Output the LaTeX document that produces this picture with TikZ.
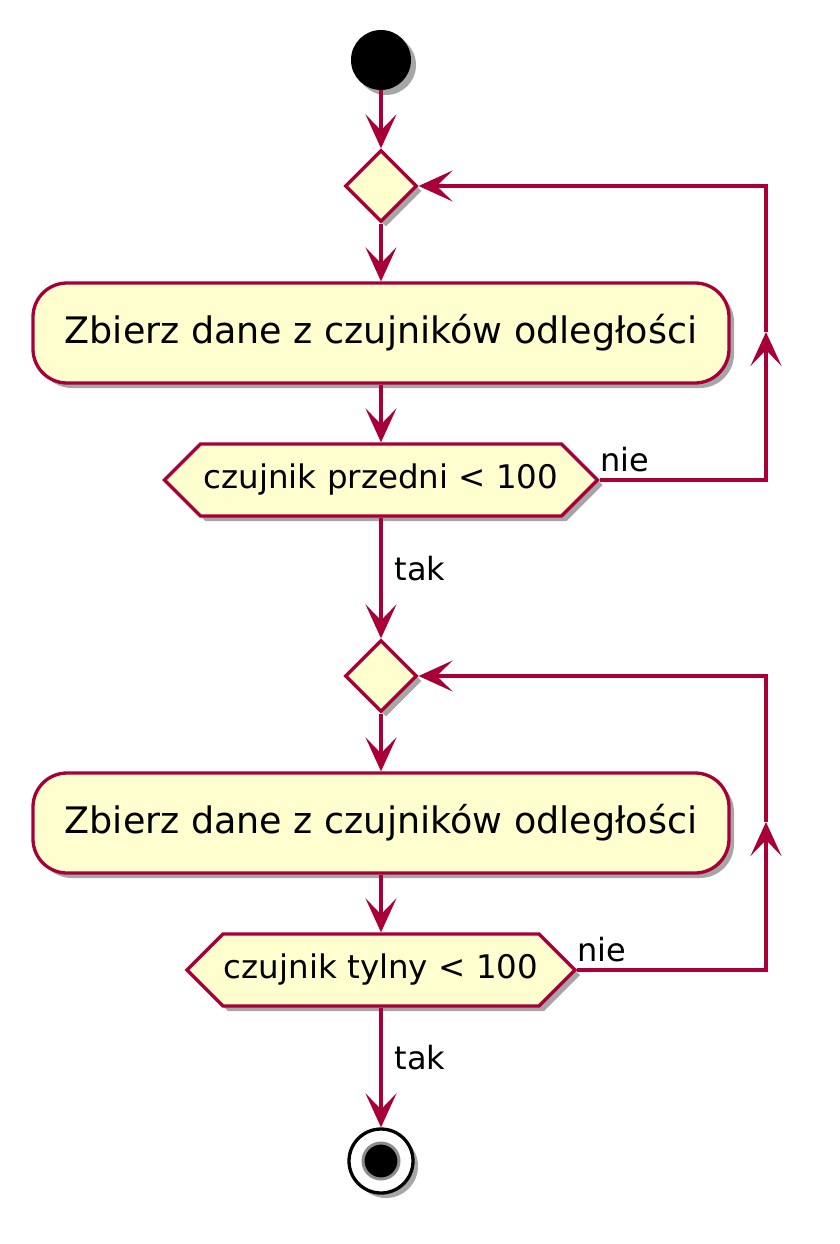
\documentclass[tikz,border=0pt]{standalone}
\usepackage{fontspec}
\setmainfont{DejaVu Sans}
\usetikzlibrary{shapes.geometric, shapes.symbols, arrows.meta, shadows}
\definecolor{umlred}{RGB}{168, 0, 54}
\definecolor{umlfill}{RGB}{254, 254, 206}

\tikzset{
  shade/.style={drop shadow={shadow xshift=5pt, shadow yshift=-5pt, opacity=0.35, fill=black}},
  activity/.style={draw=umlred, fill=umlfill, line width=3.3pt, rounded corners=34pt, minimum width=696pt, minimum height=100pt, font=\fontsize{36.5}{42}\selectfont, shade},
  merge/.style={draw=umlred, fill=umlfill, line width=3.3pt, diamond, aspect=1, inner sep=0pt, minimum width=72pt, minimum height=72pt, shade},
  cond/.style={draw=umlred, fill=umlfill, line width=3.3pt, signal, signal to=west and east, signal pointer angle=90, inner sep=0pt, minimum height=72pt, font=\fontsize{32.5}{38}\selectfont, shade},
  flow/.style={draw=umlred, line width=3.3pt, -{Stealth[length=34pt, width=31pt, inset=16pt]}},
  lbl/.style={font=\fontsize{32}{38}\selectfont, inner sep=0pt}
}

\begin{document}
\begin{tikzpicture}[x=1pt, y=-1pt]
  \useasboundingbox (0,0) rectangle (840,1244);

  % first loop
  \node[circle, fill=black, minimum size=60pt, inner sep=0pt, shade] (start) at (381,60) {};
  \node[merge] (d1) at (381,186) {};
  \node[activity] (box1) at (381,333) {Zbierz dane z czujników odległości};
  \node[cond, minimum width=433pt] (h1) at (381,480) {czujnik przedni < 100};
  \coordinate (r1b) at (766,480);
  \coordinate (r1m) at (766,332);
  \coordinate (r1t) at (766,186);

  \draw[flow] (start) -- (d1.north);
  \draw[flow] (d1.south) -- (box1.north);
  \draw[flow] (box1.south) -- (h1.north);
  \draw[flow] (h1.east) -- (r1b) -- (r1m);
  \draw[flow] (r1m) -- (r1t) -- (d1.east);
  \node[lbl, anchor=south west] at (h1.east) [yshift=8pt] {nie};

  % second loop
  \node[merge] (d2) at (381,676) {};
  \node[activity] (box2) at (381,823) {Zbierz dane z czujników odległości};
  \node[cond, minimum width=388pt] (h2) at (381,970) {czujnik tylny < 100};
  \coordinate (r2b) at (766,970);
  \coordinate (r2m) at (766,822);
  \coordinate (r2t) at (766,676);

  \draw[flow] (h1.south) -- node[lbl, pos=0.42, right=12pt] {tak} (d2.north);
  \draw[flow] (d2.south) -- (box2.north);
  \draw[flow] (box2.south) -- (h2.north);
  \draw[flow] (h2.east) -- (r2b) -- (r2m);
  \draw[flow] (r2m) -- (r2t) -- (d2.east);
  \node[lbl, anchor=south west] at (h2.east) [yshift=8pt] {nie};

  % end
  \node[circle, draw=black, fill=white, line width=3.3pt, minimum size=64pt, inner sep=0pt, shade] (stop) at (381,1161) {};
  \node[circle, draw=black!45, fill=black, line width=3pt, minimum size=36pt, inner sep=0pt] (stopin) at (stop) {};
  \draw[flow] (h2.south) -- node[lbl, pos=0.42, right=12pt] {tak} (stop.north);
\end{tikzpicture}
\end{document}
